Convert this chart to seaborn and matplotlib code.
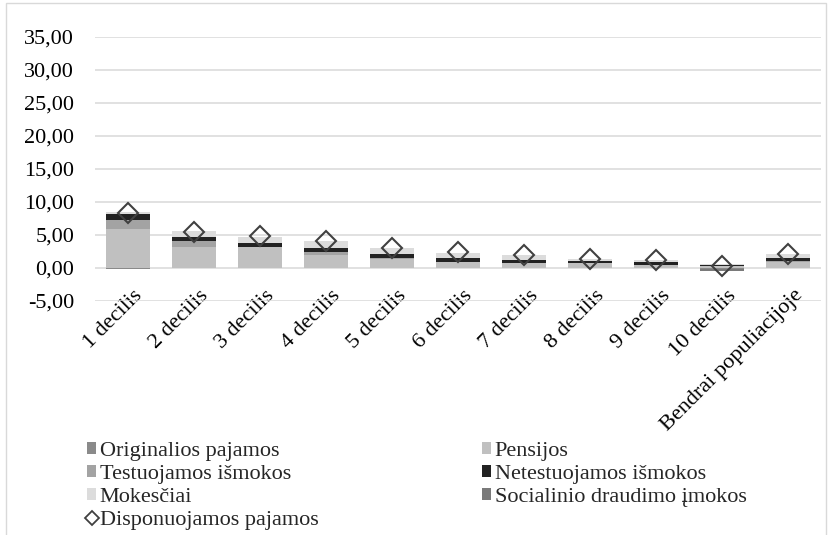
import numpy as np
import pandas as pd
import matplotlib
matplotlib.use("Agg")
import matplotlib.pyplot as plt
import seaborn as sns
from matplotlib.patches import Patch, Rectangle
from matplotlib.lines import Line2D
from matplotlib.ticker import FuncFormatter
from matplotlib.transforms import ScaledTranslation

# --- data -------------------------------------------------------------
categories = ["1 decilis", "2 decilis", "3 decilis", "4 decilis", "5 decilis",
              "6 decilis", "7 decilis", "8 decilis", "9 decilis", "10 decilis",
              "Bendrai populiacijoje"]
originalios = [-0.15, -0.05, 0.0, 0.0, 0.0, 0.0, 0.0, 0.0, 0.0, -0.15, 0.0]
pensijos = [5.87, 3.20, 3.15, 1.96, 1.40, 0.90, 0.75, 0.70, 0.50, 0.30, 0.95]
testuojamos = [1.46, 0.90, 0.05, 0.44, 0.10, 0.05, 0.00, 0.00, 0.00, 0.00, 0.10]
netestuojamos = [0.90, 0.60, 0.65, 0.60, 0.60, 0.50, 0.40, 0.40, 0.40, 0.15, 0.45]
mokesciai = [0.25, 0.85, 0.90, 1.10, 0.90, 0.85, 0.80, 0.20, 0.25, 0.15, 0.60]
socialinio = [0.0, 0.0, 0.0, 0.0, 0.0, 0.0, 0.0, 0.0, 0.0, -0.35, 0.0]
disponuojamos = [8.40, 5.50, 4.80, 4.10, 3.00, 2.35, 2.00, 1.30, 1.15, 0.25, 2.10]

series_names = ["Originalios pajamos", "Pensijos", "Testuojamos išmokos",
                "Netestuojamos išmokos", "Mokesčiai", "Socialinio draudimo įmokos"]
series_values = [originalios, pensijos, testuojamos, netestuojamos, mokesciai, socialinio]
series_colors = ["#8a8a8a", "#c0c0c0", "#a3a3a3", "#222222", "#dcdcdc", "#7a7a7a"]

FS = 16

# --- figure -----------------------------------------------------------
sns.set_theme(style="white")
plt.rcParams["font.family"] = ["Liberation Serif", "DejaVu Serif"]

W, H = 831, 535
fig = plt.figure(figsize=(W / 100, H / 100), dpi=100)
ax = fig.add_axes([95 / W, 1 - 301 / H, 726 / W, 264 / H])

# stacked bars: positive parts stack upward, negative parts downward
vals = np.array(series_values, dtype=float)
pos_cum = np.cumsum(np.clip(vals, 0, None), axis=0)
neg_cum = np.cumsum(np.clip(vals, None, 0), axis=0)

for k in range(len(series_names) - 1, -1, -1):
    for cum in (pos_cum, neg_cum):
        df = pd.DataFrame({"kategorija": categories, "reiksme": cum[k]})
        sns.barplot(data=df, x="kategorija", y="reiksme", order=categories,
                    color=series_colors[k], saturation=1, width=0.67,
                    errorbar=None, linewidth=0, ax=ax, zorder=3)

# disposable income markers
df_disp = pd.DataFrame({"kategorija": categories, "reiksme": disponuojamos})
sns.pointplot(data=df_disp, x="kategorija", y="reiksme", order=categories,
              linestyle="none", marker="D", markersize=10.5,
              markerfacecolor="none", markeredgecolor="#404040",
              markeredgewidth=1.5, color="#404040", errorbar=None, ax=ax)
for ln in ax.lines:
    ln.set_zorder(5)
    ln.set_markerfacecolor("none")

# axes styling
ax.set_ylim(-5, 35)
ax.set_yticks(np.arange(-5, 36, 5))
ax.yaxis.set_major_formatter(FuncFormatter(lambda v, p: f"{v:.2f}".replace(".", ",")))
ax.set_xlim(-0.5, len(categories) - 0.5)
ax.grid(axis="y", color="#d9d9d9", linewidth=1.1, zorder=0)
ax.grid(axis="x", visible=False)
ax.set_axisbelow(True)
for s in ax.spines.values():
    s.set_visible(False)
ax.set_xlabel("")
ax.set_ylabel("")
ax.tick_params(axis="y", length=0, pad=15, labelsize=FS, labelcolor="black")
ax.tick_params(axis="x", length=0, pad=0, labelsize=FS, labelcolor="black")
ax.set_xticks(range(len(categories)))
ax.set_xticklabels(categories, rotation=45, ha="right", rotation_mode="anchor")
shift = ScaledTranslation(5 / 100, 15 / 100, fig.dpi_scale_trans)
for lbl in ax.get_xticklabels():
    lbl.set_transform(lbl.get_transform() + shift)

# legend: two columns placed side by side
patch = {n: Patch(facecolor=c, edgecolor="none") for n, c in zip(series_names, series_colors)}
disp_handle = Line2D([], [], linestyle="none", marker="D", markersize=7.5,
                     markerfacecolor="none", markeredgecolor="#404040", markeredgewidth=1.3)
leg_kw = dict(loc="upper left", frameon=False, fontsize=FS, handlelength=0.42,
              handleheight=0.42, handletextpad=0.15, labelspacing=0.18,
              borderaxespad=0, borderpad=0)
left_names = ["Originalios pajamos", "Testuojamos išmokos", "Mokesčiai"]
fig.legend([patch[n] for n in left_names] + [disp_handle],
           left_names + ["Disponuojamos pajamos"],
           bbox_to_anchor=(87 / W, 1 - 442 / H), **leg_kw)
right_names = ["Pensijos", "Netestuojamos išmokos", "Socialinio draudimo įmokos"]
fig.legend([patch[n] for n in right_names], right_names,
           bbox_to_anchor=(482 / W, 1 - 442 / H), **leg_kw)

# chart area border
fig.patches.append(Rectangle((6 / W, -0.05), 820 / W, 1.05 - 3 / H,
                             transform=fig.transFigure, fill=False,
                             edgecolor="#d9d9d9", linewidth=1.0))

fig.savefig("out.png", dpi=100, facecolor="white")
